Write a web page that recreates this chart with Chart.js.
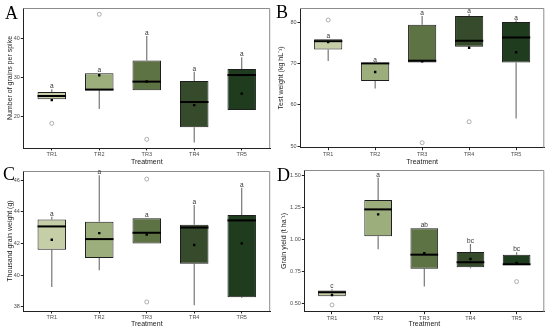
<!DOCTYPE html>
<html><head><meta charset="utf-8">
<script src="https://cdn.jsdelivr.net/npm/chart.js@4.4.1/dist/chart.umd.min.js"></script>
<style>
html,body{margin:0;padding:0;background:#fff;}
#wrap{position:relative;width:550px;height:330px;overflow:hidden;background:#fff;}
canvas{position:absolute;}
.pl{position:absolute;font-family:"Liberation Serif","Times New Roman",serif;font-size:18px;line-height:18px;color:#000;}
</style></head><body>
<div id="wrap">
<canvas id="cA" width="275" height="168" style="left:0;top:0"></canvas>
<canvas id="cB" width="275" height="168" style="left:275px;top:0"></canvas>
<canvas id="cC" width="275" height="168" style="left:0;top:162px"></canvas>
<canvas id="cD" width="275" height="168" style="left:275px;top:162px"></canvas>
<div class="pl" style="left:5px;top:4px">A</div>
<div class="pl" style="left:276px;top:3px">B</div>
<div class="pl" style="left:3px;top:165px">C</div>
<div class="pl" style="left:277px;top:166px">D</div>
</div>
<script>
// ---- data ----
const categories = ['TR1','TR2','TR3','TR4','TR5'];
const boxColors = ['#c5cea6','#9cae7c','#5e7344','#364b2c','#1f3c1f'];

// A: Number of grains per spike
const A_lo   = [24.3, 21.8, 26.6, 13.2, 21.55];
const A_q1   = [24.3, 26.6, 26.6, 17.1, 21.55];
const A_med  = [25.15, 26.8, 28.85, 23.6, 30.55];
const A_q3   = [26.2, 31.0, 34.3, 29.0, 32.1];
const A_hi   = [26.9, 31.0, 40.6, 31.4, 35.1];
const A_mean = [24.1, 30.5, 28.9, 22.8, 25.75];
const A_out  = [[18.1], [46.2], [14.0], [], []];
const A_letters = ['a','a','a','a','a'];
const A_ticks = [20, 30, 40];

// B: Test weight
const B_lo   = [70.7, 64.0, 70.3, 74.15, 56.7];
const B_q1   = [73.5, 65.8, 70.3, 74.15, 70.3];
const B_med  = [75.5, 70.1, 70.75, 75.6, 76.4];
const B_q3   = [75.95, 70.2, 79.5, 81.6, 80.15];
const B_hi   = [75.95, 70.2, 81.6, 82.1, 80.5];
const B_mean = [75.3, 68.0, 70.6, 73.9, 72.8];
const B_out  = [[80.65], [], [50.8], [55.9], []];
const B_letters = ['a','a','a','a','a'];
const B_ticks = [50, 60, 70, 80];

// C: Thousand grain weight
const C_lo   = [39.25, 40.3, 42.0, 38.1, 38.55];
const C_q1   = [41.6, 41.07, 42.0, 40.72, 38.6];
const C_med  = [43.07, 42.27, 42.67, 43.0, 43.45];
const C_q3   = [43.5, 43.37, 43.58, 43.18, 43.79];
const C_hi   = [43.68, 46.3, 43.58, 44.42, 45.52];
const C_mean = [42.23, 42.65, 42.55, 41.9, 42.0];
const C_out  = [[], [], [46.06, 38.3], [], []];
const C_letters = ['a','a','a','a','a'];
const C_ticks = [38, 40, 42, 44, 46];

// D: Grain yield
const D_lo   = [0.555, 0.921, 0.63, 0.773, 0.799];
const D_q1   = [0.555, 1.022, 0.770, 0.78, 0.799];
const D_med  = [0.586, 1.232, 0.879, 0.82, 0.804];
const D_q3   = [0.599, 1.305, 1.084, 0.90, 0.879];
const D_hi   = [0.61, 1.479, 1.084, 0.962, 0.897];
const D_mean = [0.565, 1.193, 0.89, 0.845, 0.814];
const D_out  = [[0.487], [], [], [], [0.669]];
const D_letters = ['c','a','ab','bc','bc'];
const D_ticks = [0.5, 0.75, 1.0, 1.25, 1.5];

const xTickVals = categories.map((c, i) => i + 1);

// ---- drawing ----
const SANS = '"Liberation Sans", Arial, sans-serif';

function makePanel(id, d, lay) {
  const boxPlugin = {
    id: 'boxes_' + id,
    beforeDatasetsDraw(chart) {
      const {ctx, chartArea: a, scales: {x, y}} = chart;
      ctx.save();
      ctx.strokeStyle = '#8c8c8c'; ctx.lineWidth = 1;
      ctx.beginPath();
      ctx.moveTo(a.left, a.top + 0.5); ctx.lineTo(a.right - 0.5, a.top + 0.5); ctx.lineTo(a.right - 0.5, a.bottom);
      ctx.stroke();
      ctx.strokeStyle = '#777'; ctx.lineWidth = 1.2;
      d.q1.forEach((_, i) => {
        const cx = x.getPixelForValue(i + 1);
        ctx.beginPath();
        ctx.moveTo(cx, y.getPixelForValue(d.hi[i])); ctx.lineTo(cx, y.getPixelForValue(d.q3[i]));
        ctx.moveTo(cx, y.getPixelForValue(d.q1[i])); ctx.lineTo(cx, y.getPixelForValue(d.lo[i]));
        ctx.stroke();
      });
      ctx.restore();
    },
    afterDatasetDraw(chart, args) {
      if (args.meta.type !== 'bar') return;
      const {ctx, scales: {y}} = chart;
      ctx.save();
      ctx.fillStyle = '#000';
      args.meta.data.forEach((b, i) => {
        const yy = y.getPixelForValue(d.med[i]);
        ctx.fillRect(b.x - b.width / 2, yy - 1, b.width, 2);
      });
      ctx.restore();
    },
    afterDraw(chart) {
      const {ctx, scales: {x, y}} = chart;
      ctx.save();
      ctx.fillStyle = '#333';
      ctx.font = '6.5px ' + SANS;
      ctx.textAlign = 'center'; ctx.textBaseline = 'alphabetic';
      d.letters.forEach((t, i) => {
        ctx.fillText(t, x.getPixelForValue(i + 1), y.getPixelForValue(d.hi[i]) - 1);
      });
      ctx.restore();
    }
  };

  const outPts = [];
  d.out.forEach((arr, i) => arr.forEach(v => outPts.push({x: i + 1, y: v})));

  new Chart(document.getElementById(id), {
    type: 'bar',
    data: {
      datasets: [
        {
          type: 'scatter', order: 1,
          data: d.mean.map((v, i) => ({x: i + 1, y: v})),
          pointStyle: 'rect', pointRadius: 1.7, backgroundColor: '#000', borderWidth: 0
        },
        {
          type: 'scatter', order: 2,
          data: outPts,
          pointStyle: 'circle', pointRadius: 2, backgroundColor: 'rgba(0,0,0,0)',
          borderColor: '#9a9a9a', borderWidth: 0.8
        },
        {
          type: 'bar', order: 3,
          data: d.q1.map((v, i) => ({x: i + 1, y: [v, d.q3[i]]})),
          backgroundColor: boxColors, borderColor: '#1e1e1e', borderWidth: 1,
          borderSkipped: false, barPercentage: 0.6, categoryPercentage: 1
        }
      ]
    },
    options: {
      responsive: false, animation: false, events: [], devicePixelRatio: 1,
      layout: {padding: {left: 0, right: lay.right, top: lay.top, bottom: 0}},
      plugins: {legend: {display: false}, tooltip: {enabled: false}},
      scales: {
        x: {
          type: 'linear', min: 0.4, max: 5.6, offset: false,
          afterFit: s => { s.height = lay.xh; },
          afterBuildTicks: s => { s.ticks = xTickVals.map(v => ({value: v})); },
          grid: {display: true, drawOnChartArea: false, drawTicks: true, tickLength: 2.5, color: '#222', lineWidth: 1, offset: false},
          border: {display: true, color: '#222', width: 1},
          ticks: {padding: 1, color: '#4d4d4d', font: {family: SANS, size: 5.5}, maxRotation: 0, autoSkip: false,
                  callback: v => categories[v - 1]},
          title: {display: true, text: 'Treatment', color: '#222', font: {family: SANS, size: 7, lineHeight: 1.2},
                  padding: {top: 0, bottom: lay.xtp}}
        },
        y: {
          type: 'linear', min: lay.ymin, max: lay.ymax,
          afterFit: s => { s.width = lay.yw; },
          afterBuildTicks: s => { s.ticks = d.ticks.map(v => ({value: v})); },
          grid: {display: true, drawOnChartArea: false, drawTicks: true, tickLength: 2.5, color: '#222', lineWidth: 1},
          border: {display: true, color: '#222', width: 1},
          ticks: {padding: 1, color: '#4d4d4d', font: {family: SANS, size: 5.5},
                  callback: v => lay.dec ? v.toFixed(lay.dec) : String(v)},
          title: {display: true, text: lay.ytitle, color: '#222', font: {family: SANS, size: 7, lineHeight: 1.2},
                  padding: {top: lay.ytp, bottom: 0}}
        }
      }
    },
    plugins: [boxPlugin]
  });
}

makePanel('cA', {lo: A_lo, q1: A_q1, med: A_med, q3: A_q3, hi: A_hi, mean: A_mean, out: A_out, letters: A_letters, ticks: A_ticks},
  {right: 1, top: 8, yw: 23.3, xh: 20, ymin: 11.76, ymax: 47.81, ytitle: 'Number of grains per spike', ytp: 5.8, xtp: 2.1, dec: 0});
makePanel('cB', {lo: B_lo, q1: B_q1, med: B_med, q3: B_q3, hi: B_hi, mean: B_mean, out: B_out, letters: B_letters, ticks: B_ticks},
  {right: 5.7, top: 8, yw: 25, xh: 20.3, ymin: 49.59, ymax: 83.57, ytitle: 'Test weight (kg hL\u207B\u00B9)', ytp: 1.5, xtp: 2.1, dec: 0});
makePanel('cC', {lo: C_lo, q1: C_q1, med: C_med, q3: C_q3, hi: C_hi, mean: C_mean, out: C_out, letters: C_letters, ticks: C_ticks},
  {right: 1, top: 9, yw: 23.3, xh: 19, ymin: 37.73, ymax: 46.57, ytitle: 'Thousand grain weight (g)', ytp: 5.8, xtp: 1.5, dec: 0});
makePanel('cD', {lo: D_lo, q1: D_q1, med: D_med, q3: D_q3, hi: D_hi, mean: D_mean, out: D_out, letters: D_letters, ticks: D_ticks},
  {right: 5.7, top: 8, yw: 29.3, xh: 18.3, ymin: 0.4345, ymax: 1.539, ytitle: 'Grain yield (t ha\u207B\u00B9)', ytp: 4.5, xtp: 1.5, dec: 2});
</script>
</body></html>
